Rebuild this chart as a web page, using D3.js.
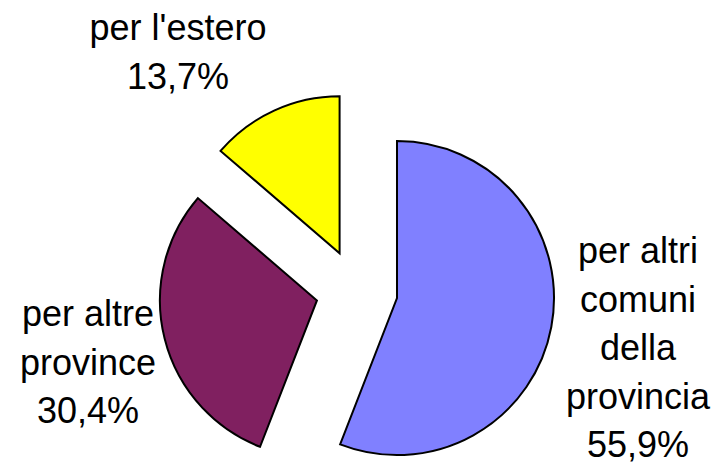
<!DOCTYPE html>
<html>
<head>
<meta charset="utf-8">
<script src="https://cdn.jsdelivr.net/npm/d3@7"></script>
<style>
	body { margin: 0; background: #fff; }
	svg { display: block; }
</style>
</head>
<body>
<div id="chart"></div>
<script>
// data
var categories = ["per altri comuni della provincia", "per altre province", "per l'estero"];
var values = [55.9, 30.4, 13.7];
var valueLabels = ["55,9%", "30,4%", "13,7%"];
// label lines (wrapped as in the original)
var labelLines = [
	["per altri", "comuni", "della", "provincia"],
	["per altre", "province"],
	["per l'estero"]
];
var colors = ["#8080FF", "#802060", "#FFFF00"];

var width = 715, height = 463;
var cx = 356.7, cy = 290.5;
var radius = 157;
var explode = 41;
var lineH = 48.5;

// label anchor (centre x, first baseline) for each slice
var labelAnchor = [
	{x: 638, y: 263},
	{x: 88, y: 326},
	{x: 178, y: 40}
];

var svg = d3.select("#chart").append("svg")
	.attr("width", width)
	.attr("height", height);

var pie = d3.pie().sort(null).startAngle(0).endAngle(2 * Math.PI);
var arcs = pie(values);

var arc = d3.arc().innerRadius(0).outerRadius(radius);

var g = svg.append("g").attr("transform", "translate(" + cx + "," + cy + ")");

g.selectAll("path.slice").data(arcs).enter().append("path")
	.attr("class", "slice")
	.attr("d", arc)
	.attr("fill", function(d, i) { return colors[i]; })
	.attr("stroke", "#000")
	.attr("stroke-width", 2)
	.attr("stroke-linejoin", "miter")
	.attr("transform", function(d) {
		// push each slice out along its middle angle
		var a = (d.startAngle + d.endAngle) / 2;
		return "translate(" + (explode * Math.sin(a)) + "," + (-explode * Math.cos(a)) + ")";
	});

// labels
arcs.forEach(function(d, i) {
	var lines = labelLines[i].concat([valueLabels[i]]);
	var t = svg.append("text")
		.attr("font-family", "'Liberation Sans', Arial, sans-serif")
		.attr("font-size", "36px")
		.attr("fill", "#000")
		.attr("text-anchor", "middle");
	lines.forEach(function(s, k) {
		t.append("tspan")
			.attr("x", labelAnchor[i].x)
			.attr("y", labelAnchor[i].y + k * lineH)
			.text(s);
	});
});
</script>
</body>
</html>
